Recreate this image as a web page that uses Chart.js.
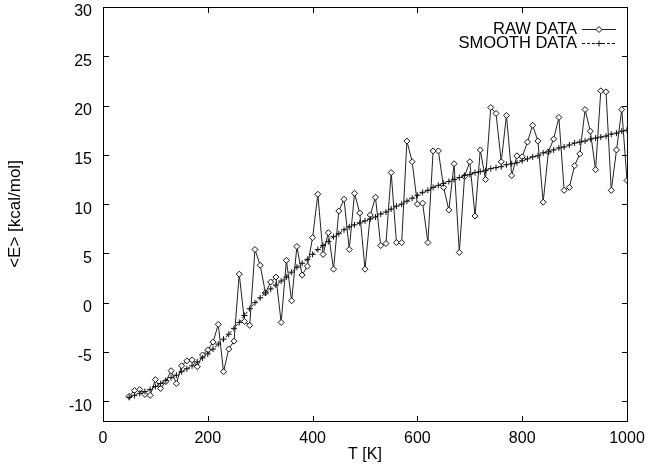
<!DOCTYPE html>
<html><head><meta charset="utf-8">
<script src="https://cdn.jsdelivr.net/npm/chart.js@4.4.1/dist/chart.umd.min.js"></script>
<style>html,body{margin:0;padding:0;background:#fff}#wrap{width:668px;height:468px}</style>
</head><body><div id="wrap"><canvas id="c" width="668" height="468"></canvas></div>
<script>
const temperatures = [50,60,70,80,90,100,110,120,130,140,150,160,170,180,190,200,210,220,230,240,250,260,270,280,290,300,310,320,330,340,350,360,370,380,390,400,410,420,430,440,450,460,470,480,490,500,510,520,530,540,550,560,570,580,590,600,610,620,630,640,650,660,670,680,690,700,710,720,730,740,750,760,770,780,790,800,810,820,830,840,850,860,870,880,890,900,910,920,930,940,950,960,970,980,990,1000];
const rawEnergy = [-9.5,-8.9,-8.8,-9.3,-9.4,-7.8,-8.7,-8.0,-6.9,-8.2,-6.4,-5.9,-5.8,-6.5,-5.3,-4.8,-4.0,-2.2,-7.0,-4.7,-3.9,2.9,-1.9,-2.3,5.4,3.8,1.0,2.1,2.6,-2.0,4.3,0.2,5.7,2.8,3.7,6.6,11.0,4.9,7.1,3.4,9.3,10.5,5.4,11.1,9.1,3.4,8.9,10.7,5.8,6.0,13.2,6.1,6.1,16.4,14.3,10.0,10.1,6.1,15.4,15.4,11.7,9.4,14.1,5.1,12.8,14.3,8.8,15.5,12.5,19.8,19.2,14.3,19.0,12.9,14.9,14.8,16.3,18.0,16.4,10.2,15.3,16.6,18.8,11.4,11.7,13.9,15.1,19.6,17.4,13.5,21.5,21.4,11.4,15.5,19.6,12.4];
const smoothEnergy = [-9.6,-9.4,-9.2,-9.0,-8.8,-8.5,-8.2,-7.9,-7.6,-7.35,-7.0,-6.7,-6.4,-6.0,-5.6,-5.2,-4.7,-4.2,-3.7,-3.2,-2.6,-2.0,-1.3,-0.6,0.0,0.5,1.0,1.4,1.8,2.2,2.6,3.1,3.6,4.0,4.4,4.9,5.4,5.8,6.2,6.7,7.0,7.4,7.7,7.9,8.1,8.3,8.5,8.7,9.0,9.2,9.5,9.8,10.0,10.3,10.6,10.9,11.2,11.4,11.7,11.9,12.1,12.3,12.5,12.7,12.9,13.0,13.2,13.3,13.4,13.6,13.7,13.8,14.0,14.1,14.2,14.4,14.6,14.8,14.9,15.2,15.3,15.5,15.7,15.8,16.0,16.2,16.3,16.4,16.6,16.7,16.8,16.9,17.1,17.2,17.4,17.5];
const xTickValues = [0,200,400,600,800,1000];
const yTickValues = [-10,-5,0,5,10,15,20,25,30];
const seriesNames = ['RAW DATA','SMOOTH DATA'];
const xTitle = 'T [K]';
const yTitle = '<E> [kcal/mol]';

const FONT = "'Liberation Sans', Arial, Helvetica, sans-serif";

const framePlugin = {
  id: 'frame',
  afterDraw(chart) {
    const ctx = chart.ctx;
    const a = chart.chartArea;
    const x = chart.scales.x, y = chart.scales.y;
    ctx.save();
    ctx.globalAlpha = 1;
    ctx.globalCompositeOperation = 'source-over';
    ctx.fillStyle = '#000000';
    const L = Math.round(a.left), R = Math.round(a.right);
    const T = Math.round(a.top), B = Math.round(a.bottom);
    // box
    ctx.fillRect(L, T, R - L + 1, 1);
    ctx.fillRect(L, B, R - L + 1, 1);
    ctx.fillRect(L, T, 1, B - T + 1);
    ctx.fillRect(R, T, 1, B - T + 1);
    // inward ticks on all four sides
    xTickValues.forEach(v => {
      const px = Math.round(x.getPixelForValue(v));
      ctx.fillRect(px, B - 5, 1, 5);
      ctx.fillRect(px, T + 1, 1, 5);
    });
    yTickValues.forEach(v => {
      const py = Math.round(y.getPixelForValue(v));
      ctx.fillRect(L + 1, py, 5, 1);
      ctx.fillRect(R - 5, py, 5, 1);
    });

    // legend (text then sample, gnuplot style)
    ctx.font = '16.5px ' + FONT;
    ctx.fillStyle = '#000';
    ctx.textAlign = 'right';
    ctx.textBaseline = 'middle';
    const tx = R - 50, sx0 = R - 45, sx1 = R - 11, sm = (sx0 + sx1) / 2;
    const rows = [T + 22, T + 36];
    chart.data.datasets.forEach((ds, i) => {
      const ry = Math.round(rows[i]);
      ctx.fillText(ds.label, tx, ry);
      ctx.save();
      ctx.strokeStyle = ds.borderColor;
      ctx.lineWidth = 1;
      ctx.setLineDash(ds.borderDash || []);
      ctx.beginPath(); ctx.moveTo(sx0, ry + 0.5); ctx.lineTo(sx1, ry + 0.5); ctx.stroke();
      ctx.setLineDash([]);
      ctx.fillStyle = ds.pointBackgroundColor;
      ctx.strokeStyle = ds.pointBorderColor;
      ctx.lineWidth = 1;
      Chart.helpers.drawPoint(ctx, {pointStyle: ds.pointStyle, radius: ds.pointRadius, borderWidth: 1, rotation: 0}, sm, ry + 0.5);
      ctx.restore();
    });
    ctx.restore();
  }
};

new Chart(document.getElementById('c'), {
  type: 'line',
  data: {
    datasets: [
      {
        label: seriesNames[0],
        data: temperatures.map((t, i) => ({x: t, y: rawEnergy[i]})),
        borderColor: '#222', borderWidth: 1,
        pointStyle: 'rectRot', pointRadius: 3,
        pointBackgroundColor: '#fff', pointBorderColor: '#111', pointBorderWidth: 1,
        tension: 0, fill: false, order: 2
      },
      {
        label: seriesNames[1],
        data: temperatures.map((t, i) => ({x: t, y: smoothEnergy[i]})),
        borderColor: '#111', borderWidth: 1, borderDash: [3, 2],
        pointStyle: 'cross', pointRadius: 3,
        pointBackgroundColor: '#111', pointBorderColor: '#111', pointBorderWidth: 1,
        tension: 0, fill: false, order: 1
      }
    ]
  },
  options: {
    responsive: false,
    animation: false,
    devicePixelRatio: 1,
    layout: {padding: {top: 7, right: 41, left: 0, bottom: 0}},
    plugins: {legend: {display: false}, tooltip: {enabled: false}},
    scales: {
      x: {
        type: 'linear', min: 0, max: 1000,
        grid: {display: false, drawTicks: false},
        border: {display: true, color: '#000', width: 1},
        afterBuildTicks: s => { s.ticks = xTickValues.map(v => ({value: v})); },
        afterFit: s => { s.height = 47; s.paddingLeft = 0; s.paddingRight = 0; },
        ticks: {color: '#000', font: {family: FONT, size: 16}, padding: 8, maxRotation: 0, callback: v => String(v)},
        title: {display: true, text: xTitle, color: '#000', font: {family: FONT, size: 16}, padding: {top: 0, bottom: 4}}
      },
      y: {
        type: 'linear', min: -12, max: 30,
        grid: {display: false, drawTicks: false},
        border: {display: true, color: '#000', width: 1},
        afterBuildTicks: s => { s.ticks = yTickValues.map(v => ({value: v})); },
        afterFit: s => { s.width = 103; s.paddingTop = 0; s.paddingBottom = 0; },
        ticks: {color: '#000', font: {family: FONT, size: 16}, padding: 11, labelOffset: 5, callback: v => String(v)},
        title: {display: true, text: yTitle, color: '#000', font: {family: FONT, size: 17}, padding: {top: 5, bottom: 0}}
      }
    }
  },
  plugins: [framePlugin]
});
</script>
</body></html>
